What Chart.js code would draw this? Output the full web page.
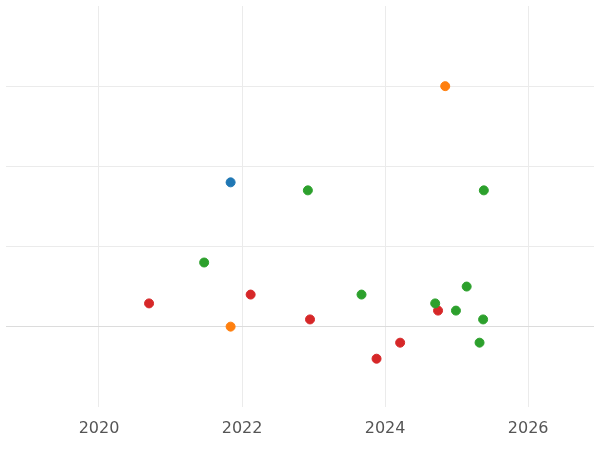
<!DOCTYPE html>
<html>
<head>
<script src="https://cdn.jsdelivr.net/npm/chart.js@4"></script>
<style>body{margin:0}#wrap{width:600px;height:450px}</style>
</head>
<body>
<div id="wrap"><canvas id="c"></canvas></div>
<script>
// Series (x = year, y = value)
const blueX = [2021.84];
const blueY = [1.80];
const orangeX = [2024.84, 2021.84];
const orangeY = [3.0, 0];
const greenX = [2022.92, 2025.38, 2021.47, 2023.67, 2025.14, 2024.70, 2024.99, 2025.37, 2025.32];
const greenY = [1.70, 1.70, 0.80, 0.40, 0.50, 0.29, 0.20, 0.09, -0.20];
const redX = [2020.70, 2022.12, 2022.95, 2024.74, 2024.21, 2023.88];
const redY = [0.29, 0.40, 0.09, 0.20, -0.20, -0.40];

const pts = (xs, ys) => xs.map((x, i) => ({ x: x, y: ys[i] }));
const mk = (xs, ys, color) => ({
    data: pts(xs, ys), backgroundColor: color, borderColor: color,
    pointRadius: 4.5, pointHoverRadius: 5
});

new Chart(document.getElementById('c'), {
    type: 'scatter',
    data: {
        datasets: [
            mk(blueX, blueY, '#1f77b4'),
            mk(orangeX, orangeY, '#ff7f0e'),
            mk(greenX, greenY, '#2ca02c'),
            mk(redX, redY, '#d62728')
        ]
    },
    options: {
        responsive: true,
        maintainAspectRatio: false,
        animation: false,
        layout: { padding: { top: -6, left: -6, right: -6, bottom: 0 } },
        plugins: { legend: { display: false }, tooltip: { enabled: false } },
        scales: {
            x: {
                min: 2018.7, max: 2026.92,
                afterBuildTicks: ax => { ax.ticks = [2020, 2022, 2024, 2026].map(v => ({ value: v })); },
                grid: { color: '#ebebeb', drawTicks: false },
                border: { display: false },
                ticks: { color: '#555', font: { size: 16, family: 'DejaVu Sans' }, padding: 12, callback: v => String(v) }
            },
            y: {
                min: -1, max: 4,
                ticks: { display: false, stepSize: 1 },
                afterFit: ax => { ax.width = 0; },
                grid: { color: ctx => ctx.tick && (ctx.tick.value === -1 || ctx.tick.value === 4) ? 'rgba(0,0,0,0)' : (ctx.tick && ctx.tick.value === 0 ? '#dcdcdc' : '#ebebeb'), drawTicks: false },
                border: { display: false }
            }
        }
    }
});
</script>
</body>
</html>
